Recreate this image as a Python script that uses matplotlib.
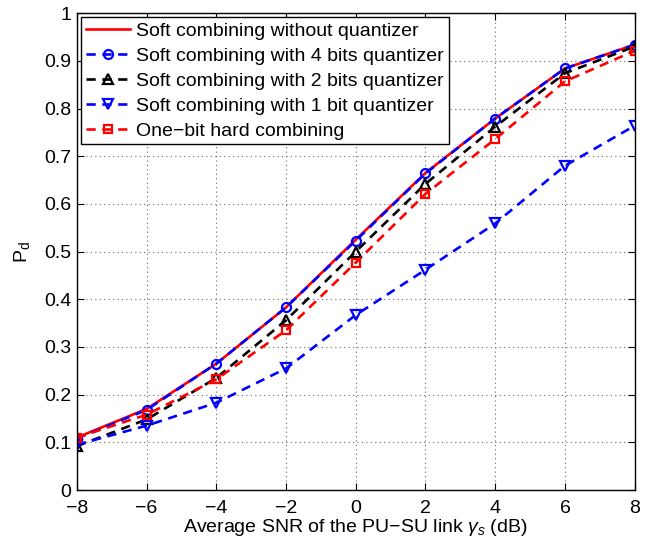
import matplotlib
matplotlib.use("Agg")
import matplotlib.pyplot as plt

plt.rcParams['font.family'] = ['Liberation Sans', 'DejaVu Sans']
plt.rcParams['mathtext.fontset'] = 'custom'
plt.rcParams['mathtext.rm'] = 'Liberation Sans'
plt.rcParams['mathtext.it'] = 'Liberation Sans:italic'

# data
snr_db = [-8, -6, -4, -2, 0, 2, 4, 6, 8]
pd_soft = [0.110, 0.170, 0.265, 0.383, 0.525, 0.665, 0.779, 0.884, 0.934]
pd_4bit = [0.108, 0.168, 0.265, 0.383, 0.523, 0.664, 0.779, 0.884, 0.934]
pd_2bit = [0.092, 0.148, 0.235, 0.356, 0.500, 0.642, 0.762, 0.874, 0.930]
pd_1bit = [0.095, 0.135, 0.183, 0.255, 0.367, 0.462, 0.559, 0.680, 0.764]
pd_hard = [0.110, 0.158, 0.232, 0.335, 0.477, 0.621, 0.736, 0.857, 0.921]

labels = [
    'Soft combining without quantizer',
    'Soft combining with 4 bits quantizer',
    'Soft combining with 2 bits quantizer',
    'Soft combining with 1 bit quantizer',
    'One\u2212bit hard combining',
]

fig = plt.figure(figsize=(6.57, 5.37), dpi=100)
ax = fig.add_axes([0.117, 0.0875, 0.849, 0.888])

dash = (0, (3.5, 2.5))
ax.plot(snr_db, pd_soft, '-', color='red', lw=1.9, label=labels[0])
ax.plot(snr_db, pd_4bit, linestyle=dash, color='blue', lw=1.9, marker='o',
        ms=6.5, mfc='none', mew=1.6, label=labels[1])
ax.plot(snr_db, pd_2bit, linestyle=dash, color='black', lw=1.9, marker='^',
        ms=6.5, mfc='none', mew=1.6, label=labels[2])
ax.plot(snr_db, pd_1bit, linestyle=dash, color='blue', lw=1.9, marker='v',
        ms=6.5, mfc='none', mew=1.6, label=labels[3])
ax.plot(snr_db, pd_hard, linestyle=dash, color='red', lw=1.9, marker='s',
        ms=5.5, mfc='none', mew=1.6, label=labels[4])

ax.set_xlim(-8, 8)
ax.set_ylim(0, 1)
ax.set_xticks(range(-8, 9, 2))
ax.set_xticklabels([str(v).replace('-', '\u2212') for v in range(-8, 9, 2)])
ax.set_yticks([i / 10 for i in range(11)])
ax.set_yticklabels(['0', '0.1', '0.2', '0.3', '0.4', '0.5', '0.6', '0.7',
                    '0.8', '0.9', '1'])
ax.tick_params(direction='in', top=True, right=True, labelsize=14, length=5)
ax.tick_params(axis='x', pad=7)
ax.tick_params(axis='y', pad=4)
ax.grid(True, linestyle=(0, (1, 3)), color='#666666', lw=0.8)
for s in ax.spines.values():
    s.set_linewidth(1.0)

ax.set_xlabel('Average SNR of the PU\u2212SU link $\\gamma_s$ (dB)',
              fontsize=14, labelpad=0)
ax.set_ylabel('P$_\\mathregular{d}$', fontsize=14, labelpad=9)

leg = ax.legend(loc='upper left', fontsize=14, fancybox=False,
                edgecolor='black', framealpha=1, handlelength=2.3,
                borderaxespad=0.2, labelspacing=0.38, handletextpad=0.3,
                borderpad=0.25)
leg.get_frame().set_linewidth(1.0)

fig.savefig('out.png', dpi=100)
